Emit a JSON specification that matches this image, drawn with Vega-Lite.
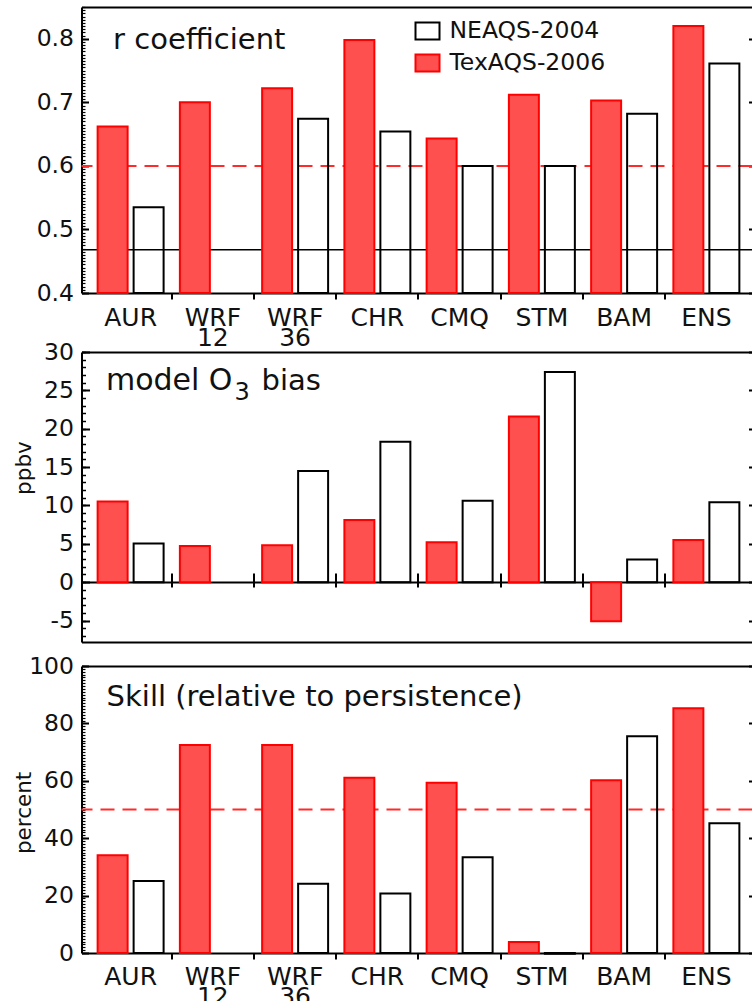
{
  "$schema": "https://vega.github.io/schema/vega-lite/v6.json",
  "padding": {"left": 13.5, "top": 6, "right": 0, "bottom": 0},
  "background": "white",
  "spacing": 0,
  "datasets": {
    "r": [
      {"model": "AUR", "campaign": "TexAQS-2006", "value": 0.662},
      {"model": "AUR", "campaign": "NEAQS-2004", "value": 0.535},
      {"model": "WRF 12", "campaign": "TexAQS-2006", "value": 0.700},
      {"model": "WRF 36", "campaign": "TexAQS-2006", "value": 0.722},
      {"model": "WRF 36", "campaign": "NEAQS-2004", "value": 0.674},
      {"model": "CHR", "campaign": "TexAQS-2006", "value": 0.798},
      {"model": "CHR", "campaign": "NEAQS-2004", "value": 0.654},
      {"model": "CMQ", "campaign": "TexAQS-2006", "value": 0.643},
      {"model": "CMQ", "campaign": "NEAQS-2004", "value": 0.600},
      {"model": "STM", "campaign": "TexAQS-2006", "value": 0.712},
      {"model": "STM", "campaign": "NEAQS-2004", "value": 0.600},
      {"model": "BAM", "campaign": "TexAQS-2006", "value": 0.703},
      {"model": "BAM", "campaign": "NEAQS-2004", "value": 0.682},
      {"model": "ENS", "campaign": "TexAQS-2006", "value": 0.820},
      {"model": "ENS", "campaign": "NEAQS-2004", "value": 0.761}
    ],
    "bias": [
      {"model": "AUR", "campaign": "TexAQS-2006", "value": 10.5},
      {"model": "AUR", "campaign": "NEAQS-2004", "value": 5.05},
      {"model": "WRF 12", "campaign": "TexAQS-2006", "value": 4.7},
      {"model": "WRF 36", "campaign": "TexAQS-2006", "value": 4.8},
      {"model": "WRF 36", "campaign": "NEAQS-2004", "value": 14.5},
      {"model": "CHR", "campaign": "TexAQS-2006", "value": 8.1},
      {"model": "CHR", "campaign": "NEAQS-2004", "value": 18.3},
      {"model": "CMQ", "campaign": "TexAQS-2006", "value": 5.2},
      {"model": "CMQ", "campaign": "NEAQS-2004", "value": 10.6},
      {"model": "STM", "campaign": "TexAQS-2006", "value": 21.6},
      {"model": "STM", "campaign": "NEAQS-2004", "value": 27.4},
      {"model": "BAM", "campaign": "TexAQS-2006", "value": -5.1},
      {"model": "BAM", "campaign": "NEAQS-2004", "value": 2.96},
      {"model": "ENS", "campaign": "TexAQS-2006", "value": 5.5},
      {"model": "ENS", "campaign": "NEAQS-2004", "value": 10.4}
    ],
    "skill": [
      {"model": "AUR", "campaign": "TexAQS-2006", "value": 34.1},
      {"model": "AUR", "campaign": "NEAQS-2004", "value": 25.1},
      {"model": "WRF 12", "campaign": "TexAQS-2006", "value": 72.5},
      {"model": "WRF 36", "campaign": "TexAQS-2006", "value": 72.5},
      {"model": "WRF 36", "campaign": "NEAQS-2004", "value": 24.1},
      {"model": "CHR", "campaign": "TexAQS-2006", "value": 61.1},
      {"model": "CHR", "campaign": "NEAQS-2004", "value": 20.7},
      {"model": "CMQ", "campaign": "TexAQS-2006", "value": 59.3},
      {"model": "CMQ", "campaign": "NEAQS-2004", "value": 33.4},
      {"model": "STM", "campaign": "TexAQS-2006", "value": 3.8},
      {"model": "STM", "campaign": "NEAQS-2004", "value": -0.3},
      {"model": "BAM", "campaign": "TexAQS-2006", "value": 60.2},
      {"model": "BAM", "campaign": "NEAQS-2004", "value": 75.5},
      {"model": "ENS", "campaign": "TexAQS-2006", "value": 85.3},
      {"model": "ENS", "campaign": "NEAQS-2004", "value": 45.2}
    ]
  },
  "resolve": {"scale": {"fill": "independent", "stroke": "independent"}, "legend": {"fill": "independent", "stroke": "independent"}},
  "vconcat": [
    {
      "width": 671, "height": 286,
      "data": {"name": "r"},
      "layer": [
        {
          "data": {"values": [{}]},
          "mark": {"type": "rule", "color": "#ff2a2a", "strokeWidth": 2, "strokeDash": [14, 8]},
          "encoding": {"y": {"datum": 0.6, "type": "quantitative", "scale": {"domain": [0.4, 0.85], "nice": false, "zero": false}, "axis": null}}
        },
        {
          "data": {"values": [{}]},
          "mark": {"type": "rule", "color": "black", "strokeWidth": 1.5},
          "encoding": {"y": {"datum": 0.468, "type": "quantitative", "scale": {"domain": [0.4, 0.85], "nice": false, "zero": false}, "axis": null}}
        },
        {
          "mark": {"type": "bar", "strokeWidth": 2},
          "encoding": {
            "x": {"field": "model", "type": "nominal",
                  "scale": {"domain": ["AUR", "WRF 12", "WRF 36", "CHR", "CMQ", "STM", "BAM", "ENS"], "paddingInner": 0, "paddingOuter": 0.079, "align": 0.615},
                  "axis": {"orient": "bottom", "labels": false, "values": ["WRF 12", "WRF 36", "CHR", "CMQ", "STM", "BAM", "ENS"], "bandPosition": 0, "tickSize": 6, "tickWidth": 2, "domainWidth": 2, "title": null}},
            "xOffset": {"field": "campaign", "scale": {"domain": ["TexAQS-2006", "NEAQS-2004"], "paddingInner": 0.167, "paddingOuter": 0.226}},
            "y": {"field": "value", "type": "quantitative", "scale": {"domain": [0.4, 0.85], "nice": false, "zero": false},
                  "axis": {"orient": "left", "values": [0.4, 0.5, 0.6, 0.7, 0.8], "format": ".1f", "ticks": false, "domainWidth": 2, "labelFontSize": 23.5, "labelPadding": 8,
                           "grid": true, "gridColor": "black", "gridWidth": 2, "gridDash": [7, 660, 4, 300], "title": null}},
            "y2": {"datum": 0.4},
            "fill": {"field": "campaign", "type": "nominal", "scale": {"domain": ["NEAQS-2004", "TexAQS-2006"], "range": ["rgba(255,255,255,0)", "#ff5050"]},
                     "legend": {"orient": "none", "legendX": 333, "legendY": 11, "title": null, "symbolType": "M-1,-0.7H1V0.7H-1Z", "symbolSize": 576, "symbolStrokeWidth": 2, "labelFontSize": 23.5, "labelOffset": 9, "rowPadding": 6, "padding": 0, "labelLimit": 300}},
            "stroke": {"field": "campaign", "type": "nominal", "scale": {"domain": ["NEAQS-2004", "TexAQS-2006"], "range": ["black", "#ff0000"]},
                     "legend": {"orient": "none", "legendX": 333, "legendY": 11, "title": null, "symbolType": "M-1,-0.7H1V0.7H-1Z", "symbolSize": 576, "symbolStrokeWidth": 2, "labelFontSize": 23.5, "labelOffset": 9, "rowPadding": 6, "padding": 0, "labelLimit": 300}}
          }
        },
        {
          "mark": {"type": "text", "text": ""},
          "encoding": {
            "x": {"field": "model", "type": "nominal", "scale": {"domain": ["AUR", "WRF 12", "WRF 36", "CHR", "CMQ", "STM", "BAM", "ENS"], "paddingInner": 0, "paddingOuter": 0.079, "align": 0.615},
                  "axis": {"orient": "top", "labels": false, "ticks": false, "domainWidth": 2, "title": null}},
            "y": {"field": "value", "type": "quantitative", "scale": {"domain": [0.4, 0.85], "nice": false, "zero": false},
                  "axis": {"orient": "right", "offset": -671, "tickCount": 90, "labels": false, "domain": false, "ticks": true, "tickSize": 3.5, "tickWidth": 1.2, "title": null}}
          }
        },
        {
          "data": {"values": [{}]},
          "mark": {"type": "text", "text": "r coefficient", "align": "left", "baseline": "alphabetic", "fontSize": 29, "dx": -17.5, "color": "#111"},
          "encoding": {
            "x": {"datum": "AUR", "type": "nominal", "axis": null},
            "y": {"datum": 0.784, "type": "quantitative", "axis": null}
          }
        },
        {
          "data": {"values": [{}]},
          "mark": {"type": "text", "text": "r", "opacity": 0, "angle": 270, "align": "center", "baseline": "middle", "fontSize": 21.5, "dy": -105.5},
          "encoding": {
            "x": {"datum": "AUR", "type": "nominal", "axis": null},
            "y": {"datum": 0.62, "type": "quantitative", "axis": null}
          }
        }
      ],
      "resolve": {"axis": {"x": "independent", "y": "independent"}}
    },
    {
      "width": 671, "height": 290,
      "data": {"name": "bias"},
      "layer": [
        {
          "mark": {"type": "bar", "strokeWidth": 2},
          "encoding": {
            "x": {"field": "model", "type": "nominal",
                  "scale": {"domain": ["AUR", "WRF 12", "WRF 36", "CHR", "CMQ", "STM", "BAM", "ENS"], "paddingInner": 0, "paddingOuter": 0.079, "align": 0.615},
                  "axis": {"orient": "bottom", "offset": -60, "labels": false, "values": ["WRF 12", "WRF 36", "CHR", "CMQ", "STM", "BAM", "ENS"], "bandPosition": 0, "tickSize": 5, "tickWidth": 2, "domainWidth": 2, "title": null}},
            "xOffset": {"field": "campaign", "scale": {"domain": ["TexAQS-2006", "NEAQS-2004"], "paddingInner": 0.167, "paddingOuter": 0.226}},
            "y": {"field": "value", "type": "quantitative", "scale": {"domain": [-7.8, 30], "nice": false, "zero": false},
                  "axis": {"orient": "left", "values": [-5, 0, 5, 10, 15, 20, 25, 30], "labelExpr": "datum.value < 0 ? '-' + format(-datum.value, 'd') : format(datum.value, 'd')", "ticks": false, "domainWidth": 2, "labelFontSize": 23.5, "labelPadding": 8,
                           "grid": true, "gridColor": "black", "gridWidth": 2, "gridDash": [8, 659, 4, 300], "title": null}},
            "y2": {"datum": 0},
            "fill": {"field": "campaign", "type": "nominal", "scale": {"domain": ["NEAQS-2004", "TexAQS-2006"], "range": ["rgba(255,255,255,0)", "#ff5050"]}, "legend": null},
            "stroke": {"field": "campaign", "type": "nominal", "scale": {"domain": ["NEAQS-2004", "TexAQS-2006"], "range": ["black", "#ff0000"]}, "legend": null}
          }
        },
        {
          "mark": {"type": "text", "text": ""},
          "encoding": {
            "x": {"field": "model", "type": "nominal", "scale": {"domain": ["AUR", "WRF 12", "WRF 36", "CHR", "CMQ", "STM", "BAM", "ENS"], "paddingInner": 0, "paddingOuter": 0.079, "align": 0.615},
                  "axis": {"orient": "top", "ticks": false, "domainWidth": 2, "title": null, "labelAngle": 0, "labelOverlap": false, "labelFontSize": 25, "labelLineHeight": 20, "labelPadding": 27, "labelBaseline": "alphabetic",
                           "labelExpr": "split(datum.label, ' ')"}},
            "y": {"field": "value", "type": "quantitative", "scale": {"domain": [-7.8, 30], "nice": false, "zero": false}, "axis": null}
          }
        },
        {
          "mark": {"type": "text", "text": ""},
          "encoding": {
            "x": {"field": "model", "type": "nominal", "scale": {"domain": ["AUR", "WRF 12", "WRF 36", "CHR", "CMQ", "STM", "BAM", "ENS"], "paddingInner": 0, "paddingOuter": 0.079, "align": 0.615},
                  "axis": {"orient": "bottom", "labels": false, "ticks": true, "tickSize": 12, "tickOpacity": 0, "domainWidth": 2, "title": null}},
            "y": {"field": "value", "type": "quantitative", "scale": {"domain": [-7.8, 30], "nice": false, "zero": false},
                  "axis": {"orient": "right", "offset": -671, "tickCount": 38, "labels": false, "domain": false, "ticks": true, "tickSize": 4, "tickWidth": 1.5, "title": null}}
          }
        },
        {
          "mark": {"type": "text", "text": ""},
          "encoding": {
            "x": {"field": "model", "type": "nominal", "scale": {"domain": ["AUR", "WRF 12", "WRF 36", "CHR", "CMQ", "STM", "BAM", "ENS"], "paddingInner": 0, "paddingOuter": 0.079, "align": 0.615},
                  "axis": {"orient": "bottom", "offset": -69, "labels": false, "domain": false, "values": ["WRF 12", "WRF 36", "CHR", "CMQ", "STM", "BAM", "ENS"], "bandPosition": 0, "tickSize": 9, "tickWidth": 2, "title": null}},
            "y": {"field": "value", "type": "quantitative", "scale": {"domain": [-7.8, 30], "nice": false, "zero": false}, "axis": null}
          }
        },
        {
          "data": {"values": [{}]},
          "mark": {"type": "text", "text": "model O", "align": "left", "baseline": "alphabetic", "fontSize": 30, "dx": -24.7, "color": "#111"},
          "encoding": {"x": {"datum": "AUR", "type": "nominal", "axis": null}, "y": {"datum": 25.04, "type": "quantitative", "axis": null}}
        },
        {
          "data": {"values": [{}]},
          "mark": {"type": "text", "text": "3", "align": "left", "baseline": "alphabetic", "fontSize": 24, "dx": 104, "dy": 10, "color": "#111"},
          "encoding": {"x": {"datum": "AUR", "type": "nominal", "axis": null}, "y": {"datum": 25.04, "type": "quantitative", "axis": null}}
        },
        {
          "data": {"values": [{}]},
          "mark": {"type": "text", "text": "bias", "align": "left", "baseline": "alphabetic", "fontSize": 29, "dx": 131, "color": "#111"},
          "encoding": {"x": {"datum": "AUR", "type": "nominal", "axis": null}, "y": {"datum": 25.04, "type": "quantitative", "axis": null}}
        },
        {
          "data": {"values": [{}]},
          "mark": {"type": "text", "text": "ppbv", "angle": 270, "align": "center", "baseline": "middle", "fontSize": 21.5, "dy": -105.5, "color": "#111"},
          "encoding": {"x": {"datum": "AUR", "type": "nominal", "axis": null}, "y": {"datum": 14.87, "type": "quantitative", "axis": null}}
        }
      ],
      "resolve": {"axis": {"x": "independent", "y": "independent"}}
    },
    {
      "width": 671, "height": 287,
      "data": {"name": "skill"},
      "layer": [
        {
          "data": {"values": [{}]},
          "mark": {"type": "rule", "color": "#ff2a2a", "strokeWidth": 2, "strokeDash": [14, 8]},
          "encoding": {"y": {"datum": 50, "type": "quantitative", "scale": {"domain": [0, 100], "nice": false, "zero": false}, "axis": null}}
        },
        {
          "mark": {"type": "bar", "strokeWidth": 2},
          "encoding": {
            "x": {"field": "model", "type": "nominal",
                  "scale": {"domain": ["AUR", "WRF 12", "WRF 36", "CHR", "CMQ", "STM", "BAM", "ENS"], "paddingInner": 0, "paddingOuter": 0.079, "align": 0.615},
                  "axis": {"orient": "bottom", "ticks": false, "domainWidth": 2, "title": null, "labelAngle": 0, "labelOverlap": false, "labelFontSize": 25, "labelLineHeight": 20, "labelPadding": 11.5,
                           "labelExpr": "split(datum.label, ' ')"}},
            "xOffset": {"field": "campaign", "scale": {"domain": ["TexAQS-2006", "NEAQS-2004"], "paddingInner": 0.167, "paddingOuter": 0.226}},
            "y": {"field": "value", "type": "quantitative", "scale": {"domain": [0, 100], "nice": false, "zero": false},
                  "axis": {"orient": "left", "values": [0, 20, 40, 60, 80, 100], "ticks": false, "domainWidth": 2, "labelFontSize": 23.5, "labelPadding": 8,
                           "grid": true, "gridColor": "black", "gridWidth": 2, "gridDash": [7, 660, 4, 300], "title": null}},
            "y2": {"datum": 0},
            "fill": {"field": "campaign", "type": "nominal", "scale": {"domain": ["NEAQS-2004", "TexAQS-2006"], "range": ["rgba(255,255,255,0)", "#ff5050"]}, "legend": null},
            "stroke": {"field": "campaign", "type": "nominal", "scale": {"domain": ["NEAQS-2004", "TexAQS-2006"], "range": ["black", "#ff0000"]}, "legend": null}
          }
        },
        {
          "mark": {"type": "text", "text": ""},
          "encoding": {
            "x": {"field": "model", "type": "nominal", "scale": {"domain": ["AUR", "WRF 12", "WRF 36", "CHR", "CMQ", "STM", "BAM", "ENS"], "paddingInner": 0, "paddingOuter": 0.079, "align": 0.615},
                  "axis": {"orient": "bottom", "labels": false, "domain": false, "values": ["WRF 12", "WRF 36", "CHR", "CMQ", "STM", "BAM", "ENS"], "bandPosition": 0, "tickSize": 6, "tickWidth": 2, "title": null}},
            "y": {"field": "value", "type": "quantitative", "scale": {"domain": [0, 100], "nice": false, "zero": false},
                  "axis": {"orient": "right", "offset": -671, "tickCount": 100, "labels": false, "domain": false, "ticks": true, "tickSize": 3.5, "tickWidth": 1.2, "title": null}}
          }
        },
        {
          "mark": {"type": "text", "text": ""},
          "encoding": {
            "x": {"field": "model", "type": "nominal", "scale": {"domain": ["AUR", "WRF 12", "WRF 36", "CHR", "CMQ", "STM", "BAM", "ENS"], "paddingInner": 0, "paddingOuter": 0.079, "align": 0.615},
                  "axis": {"orient": "top", "labels": false, "ticks": false, "domainWidth": 2, "title": null}},
            "y": {"field": "value", "type": "quantitative", "scale": {"domain": [0, 100], "nice": false, "zero": false}, "axis": null}
          }
        },
        {
          "data": {"values": [{}]},
          "mark": {"type": "text", "text": "Skill (relative to persistence)", "align": "left", "baseline": "alphabetic", "fontSize": 29, "dx": -24, "color": "#111"},
          "encoding": {"x": {"datum": "AUR", "type": "nominal", "axis": null}, "y": {"datum": 86.06, "type": "quantitative", "axis": null}}
        },
        {
          "data": {"values": [{}]},
          "mark": {"type": "text", "text": "percent", "angle": 270, "align": "center", "baseline": "middle", "fontSize": 21.5, "dy": -105.5, "color": "#111"},
          "encoding": {"x": {"datum": "AUR", "type": "nominal", "axis": null}, "y": {"datum": 48.8, "type": "quantitative", "axis": null}}
        }
      ],
      "resolve": {"axis": {"x": "independent", "y": "independent"}}
    }
  ],
  "config": {
    "font": "DejaVu Sans",
    "view": {"stroke": null},
    "axis": {"domainColor": "black", "tickColor": "black", "labelColor": "#111", "titleColor": "#111", "titleFontWeight": "normal", "labelFont": "DejaVu Sans", "titleFont": "DejaVu Sans"},
    "legend": {"labelColor": "#111", "labelFont": "DejaVu Sans"}
  }
}
